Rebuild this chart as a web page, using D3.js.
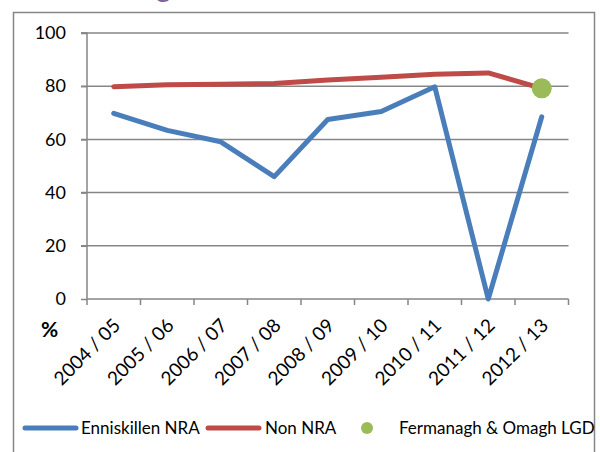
<!DOCTYPE html>
<html>
<head>
<meta charset="utf-8">
<script src="https://cdn.jsdelivr.net/npm/d3@7/dist/d3.min.js"></script>
<style>
  body { margin: 0; background: #fff; }
  svg { display: block; }
  .axis text { font-family: Lato, 'Liberation Sans', sans-serif; fill: #000; }
</style>
</head>
<body>
<svg id="chart" width="600" height="452"></svg>
<script>
const years = ['2004 / 05', '2005 / 06', '2006 / 07', '2007 / 08', '2008 / 09',
  '2009 / 10', '2010 / 11', '2011 / 12', '2012 / 13'];
const enniskillen = [69.8, 63.4, 59.1, 46.0, 67.5, 70.5, 79.8, 0, 68.5];
const nonNra = [79.8, 80.5, 80.7, 81.0, 82.3, 83.4, 84.5, 85.0, 79.2];
const lgd = [null, null, null, null, null, null, null, null, 79.2];
const yTicks = [0, 20, 40, 60, 80, 100];

const svg = d3.select('#chart');
const font = 'Lato, "Liberation Sans", sans-serif';

// frame round the chart
svg.append('rect')
  .attr('x', 13.5).attr('y', 12.5)
  .attr('width', 581).attr('height', 460)
  .attr('fill', 'none')
  .attr('stroke', '#868686')
  .attr('stroke-width', 1.5);

// title, mostly above the top edge of the picture
svg.append('text')
  .attr('x', 46).attr('y', -3)
  .attr('fill', '#8064a2')
  .attr('font-family', font)
  .attr('font-weight', 'bold')
  .attr('font-size', 28)
  .text('Percentage');

const plotLeft = 87;
const plotRight = 568.5;
const plotTop = 33;
const plotBottom = 299;

const x = d3.scaleBand().domain(years).range([plotLeft, plotRight]);
const y = d3.scaleLinear().domain([0, 100]).range([plotBottom, plotTop]);

// gridlines
svg.append('g')
  .selectAll('line')
  .data(yTicks.filter((d) => d > 0))
  .enter()
  .append('line')
  .attr('x1', plotLeft - 6).attr('x2', plotRight)
  .attr('y1', (d) => y(d)).attr('y2', (d) => y(d))
  .attr('stroke', '#868686')
  .attr('stroke-width', 1.5);

// y axis
const yAxis = svg.append('g')
  .attr('class', 'axis')
  .attr('transform', `translate(${plotLeft},0)`)
  .call(d3.axisLeft(y).tickValues(yTicks).tickSize(6).tickPadding(15));
yAxis.selectAll('line, path').attr('stroke', '#868686').attr('stroke-width', 1.5);
yAxis.select('path').attr('d', `M-6,${plotTop}H0V${plotBottom}`);
yAxis.selectAll('text').attr('font-size', 18).attr('font-family', font);

// x axis
const xAxis = svg.append('g')
  .attr('class', 'axis')
  .attr('transform', `translate(0,${plotBottom})`)
  .call(d3.axisBottom(x).tickSize(6).tickSizeOuter(0).tickFormat(''));
xAxis.select('path').attr('d', `M${plotLeft},0H${plotRight}`);
xAxis.selectAll('line, path').attr('stroke', '#868686').attr('stroke-width', 1.5);
// ticks on band edges
xAxis.selectAll('.tick').remove();
xAxis.selectAll('.edge')
  .data(d3.range(years.length + 1))
  .enter()
  .append('line')
  .attr('x1', (i) => plotLeft + i * x.bandwidth())
  .attr('x2', (i) => plotLeft + i * x.bandwidth())
  .attr('y1', 0).attr('y2', 6)
  .attr('stroke', '#868686')
  .attr('stroke-width', 1.5);

// rotated category labels
svg.append('g')
  .selectAll('text')
  .data(years)
  .enter()
  .append('text')
  .attr('transform', (d) => `translate(${x(d) + x.bandwidth() / 2 + 3},${plotBottom + 23}) rotate(-45)`)
  .attr('text-anchor', 'end')
  .attr('dy', '0.35em')
  .attr('font-family', font)
  .attr('font-size', 19)
  .text((d) => d);

// % label
svg.append('text')
  .attr('x', 41).attr('y', 337)
  .attr('font-family', font)
  .attr('font-weight', 'bold')
  .attr('font-size', 21)
  .text('%');

const cx = (i) => x(years[i]) + x.bandwidth() / 2;

const line = d3.line()
  .defined((d) => d !== null)
  .x((d, i) => cx(i))
  .y((d) => y(d));

svg.append('path')
  .datum(nonNra)
  .attr('d', line)
  .attr('fill', 'none')
  .attr('stroke', '#be4b48')
  .attr('stroke-width', 5)
  .attr('stroke-linecap', 'round')
  .attr('stroke-linejoin', 'round');

svg.append('path')
  .datum(enniskillen)
  .attr('d', line)
  .attr('fill', 'none')
  .attr('stroke', '#4a7ebb')
  .attr('stroke-width', 5)
  .attr('stroke-linecap', 'round')
  .attr('stroke-linejoin', 'round');

svg.append('g')
  .selectAll('circle')
  .data(lgd.map((v, i) => ({ v, i })).filter((d) => d.v !== null))
  .enter()
  .append('circle')
  .attr('cx', (d) => cx(d.i))
  .attr('cy', (d) => y(d.v))
  .attr('r', 10)
  .attr('fill', '#9bbb59');

// legend
const legendY = 428;
const legend = svg.append('g');
legend.append('line')
  .attr('x1', 25).attr('x2', 76).attr('y1', legendY).attr('y2', legendY)
  .attr('stroke', '#4a7ebb').attr('stroke-width', 5).attr('stroke-linecap', 'round');
legend.append('text')
  .attr('x', 81).attr('y', legendY).attr('dy', '0.35em')
  .attr('font-family', font).attr('font-size', 17)
  .text('Enniskillen NRA');
legend.append('line')
  .attr('x1', 208).attr('x2', 259).attr('y1', legendY).attr('y2', legendY)
  .attr('stroke', '#be4b48').attr('stroke-width', 5).attr('stroke-linecap', 'round');
legend.append('text')
  .attr('x', 265).attr('y', legendY).attr('dy', '0.35em')
  .attr('font-family', font).attr('font-size', 17)
  .text('Non NRA');
legend.append('circle')
  .attr('cx', 367).attr('cy', legendY).attr('r', 6)
  .attr('fill', '#9bbb59');
legend.append('text')
  .attr('x', 399).attr('y', legendY).attr('dy', '0.35em')
  .attr('font-family', font).attr('font-size', 17)
  .text('Fermanagh & Omagh LGD');
</script>
</body>
</html>
